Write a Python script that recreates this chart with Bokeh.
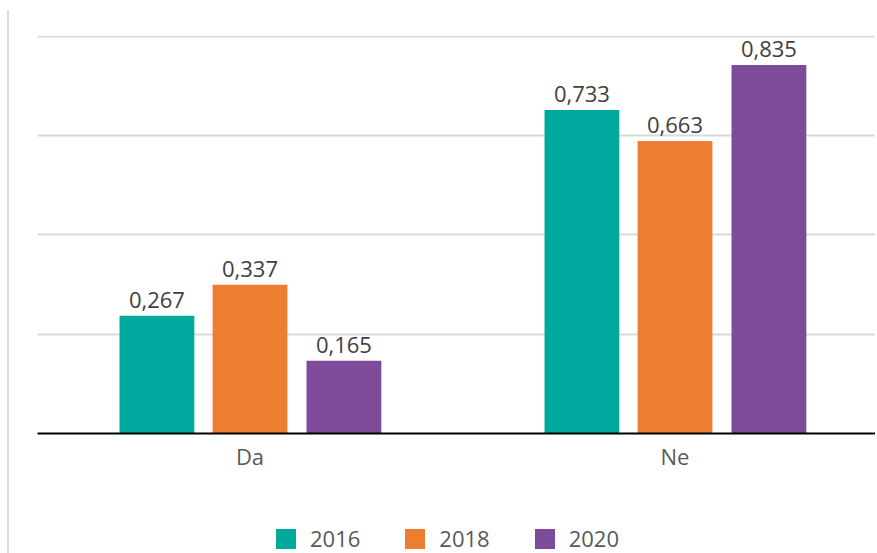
import numpy as np
from bokeh.plotting import figure
from bokeh.models import (ColumnDataSource, Range1d, FixedTicker, Legend,
                          LegendItem, Spacer)
from bokeh.layouts import row, column
from bokeh.core.properties import value
from bokeh.embed import file_html
from bokeh.resources import INLINE

categories = ["Da", "Ne"]
years = ["2016", "2018", "2020"]
values_2016 = [0.267, 0.733]
values_2018 = [0.337, 0.663]
values_2020 = [0.165, 0.835]
grid_ticks = [0.225, 0.45, 0.675, 0.9]

series = [values_2016, values_2018, values_2020]
colors = ["#00A99D", "#ED7D31", "#7E4A9A"]
offsets = [-0.219, 0.0, 0.221]
FONT = "Open Sans"
BORDER = {"border-left": "2px solid #d9d9d9"}

x_rng = Range1d(0, 840 / 425)
p = figure(width=868, height=480, output_backend="svg", toolbar_location=None,
           x_range=x_rng, y_range=Range1d(0, 0.902),
           min_border_left=28, min_border_right=0, min_border_top=25,
           min_border_bottom=57)
p.styles = BORDER
p.outline_line_color = None

# legend strip below the chart (its bars lie outside its visible y range)
pl = figure(width=868, height=63, output_backend="svg", toolbar_location=None,
            x_range=x_rng, y_range=Range1d(5, 6),
            min_border_left=0, min_border_right=0, min_border_top=0,
            min_border_bottom=0)
pl.styles = BORDER
pl.outline_line_color = None
pl.axis.visible = False
pl.grid.visible = False

pos = np.arange(len(categories)) + 0.5
items = []
for yr, vals, col, off in zip(years, series, colors, offsets):
    src = ColumnDataSource(dict(
        x=pos + off, top=vals,
        lab=[f"{v:.3f}".replace(".", ",") for v in vals]))
    p.vbar(x="x", top="top", width=0.176, bottom=0, source=src,
           fill_color=col, line_color=None)
    r = pl.vbar(x="x", top="top", width=0.176, bottom=0, source=src,
                fill_color=col, line_color=None)
    items.append(LegendItem(label=yr, renderers=[r]))
    p.text(x="x", y="top", text="lab", source=src, text_align="center",
           text_baseline="alphabetic", y_offset=-16,
           text_font=value(FONT), text_font_size="22px", text_color="#404040")

p.yaxis.visible = False
p.ygrid.ticker = FixedTicker(ticks=grid_ticks)
p.ygrid.grid_line_color = "#d9d9d9"
p.ygrid.grid_line_width = 2
p.xgrid.visible = False

ax = p.xaxis[0]
ax.ticker = FixedTicker(ticks=list(pos))
ax.major_label_overrides = {float(x): c for x, c in zip(pos, categories)}
ax.axis_line_color = "black"
ax.axis_line_width = 2
ax.major_tick_line_color = None
ax.minor_tick_line_color = None
ax.major_tick_out = 0
ax.major_label_standoff = 7
ax.major_label_text_font = FONT
ax.major_label_text_font_size = "22px"
ax.major_label_text_color = "#595959"

lg = Legend(items=items, location=(236, 0), orientation="horizontal",
            glyph_width=25, glyph_height=25, label_standoff=12, spacing=42,
            padding=0, margin=0, border_line_color=None,
            background_fill_alpha=0, label_text_font=FONT,
            label_text_font_size="22px", label_text_color="#595959")
pl.add_layout(lg, "center")

layout = row(Spacer(width=7, height=553),
             column(Spacer(width=868, height=10), p, pl))
open("out.html", "w").write(file_html(layout, INLINE))
